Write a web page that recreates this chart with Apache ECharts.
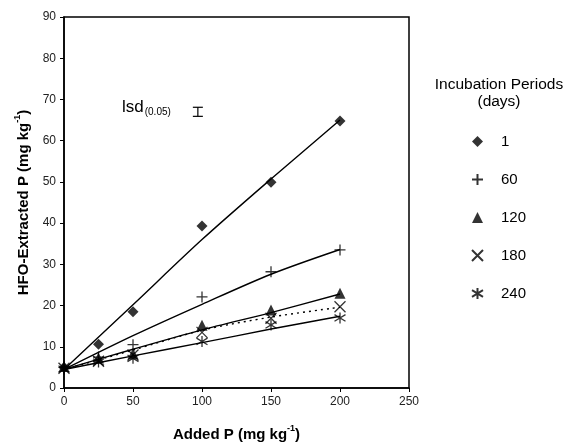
<!DOCTYPE html>
<html>
<head>
<meta charset="utf-8">
<script src="https://cdn.jsdelivr.net/npm/echarts@6/dist/echarts.min.js"></script>
<style>html,body{margin:0;padding:0;background:#fff}#c{width:568px;height:447px}</style>
</head>
<body>
<div id="c"></div>
<script>
// ---- data ----
var addedP = [0, 25, 50, 100, 150, 200];
var seriesNames = ['1', '60', '120', '180', '240'];
var obs1   = [5.0, 10.6, 18.5, 39.3, 49.9, 64.8];
var obs60  = [5.0, 7.5, 10.5, 22.1, 28.2, 33.5];
var obs120 = [5.2, 7.3, 8.3, 15.2, 18.9, 23.0];
var obs180 = [4.8, 6.5, 8.0, 13.5, 16.9, 19.7];
var obs240 = [4.6, 6.3, 7.2, 11.3, 15.3, 17.0];
var fitX   = [0, 50, 100, 150, 200];
var fit1   = [4.5, 20.2, 36.0, 50.7, 65.0];
var fit60  = [4.5, 12.7, 20.3, 27.6, 33.6];
var fit120 = [4.5, 9.4, 14.1, 18.3, 22.8];
var fit180 = [4.5, 9.2, 14.0, 17.2, 19.6];
var fit240 = [4.5, 7.8, 11.0, 14.3, 17.4];
var lsdX = 97, lsdLow = 65.9, lsdHigh = 68.1;
var xTicks = [0, 50, 100, 150, 200, 250];
var yTicks = [0, 10, 20, 30, 40, 50, 60, 70, 80, 90];

function pairs(xs, ys) { return xs.map(function (x, i) { return [x, ys[i]]; }); }

var SYM = {
  plus: 'path://M0,5L10,5M5,0L5,10',
  cross: 'path://M0,0L10,10M10,0L0,10',
  star: 'path://M0,2L10,8M0,8L10,2M5,0L5,10'
};
var obsList = [obs1, obs60, obs120, obs180, obs240];
var symbols = ['diamond', SYM.plus, 'triangle', SYM.cross, SYM.star];
var sizes = [11, 11, 11, 11, 11];
var filled = [true, false, true, false, false];
var fits = [fit1, fit60, fit120, fit180, fit240];

var series = [];
fits.forEach(function (f, i) {
  series.push({
    type: 'line', name: 'fit' + seriesNames[i], data: pairs(fitX, f), smooth: 0.3,
    showSymbol: false, silent: true, z: 2,
    lineStyle: { color: '#000', width: 1.4, type: i === 3 ? [2, 4] : 'solid' }
  });
});
obsList.forEach(function (d, i) {
  series.push({
    type: 'scatter', name: seriesNames[i], data: pairs(addedP, d),
    symbol: symbols[i], symbolSize: sizes[i], z: 5,
    itemStyle: filled[i] ? { color: '#000' } : { color: 'rgba(0,0,0,0)', borderColor: '#000', borderWidth: 1.3 }
  });
});
series.push({
  type: 'custom', name: 'lsd', data: [[lsdX, lsdLow, lsdHigh]], z: 5, silent: true,
  encode: { x: 0, y: [1, 2] },
  renderItem: function (params, api) {
    var lo = api.coord([api.value(0), api.value(1)]);
    var hi = api.coord([api.value(0), api.value(2)]);
    var w = 5;
    var st = { stroke: '#000', lineWidth: 1.2 };
    return { type: 'group', children: [
      { type: 'line', shape: { x1: lo[0], y1: lo[1], x2: hi[0], y2: hi[1] }, style: st },
      { type: 'line', shape: { x1: lo[0] - w, y1: lo[1], x2: lo[0] + w, y2: lo[1] }, style: st },
      { type: 'line', shape: { x1: hi[0] - w, y1: hi[1], x2: hi[0] + w, y2: hi[1] }, style: st }
    ] };
  }
});

var chart = echarts.init(document.getElementById('c'), null, { renderer: 'canvas' });
var FONT = 'Liberation Sans, Arial, sans-serif';
chart.setOption({
  animation: false,
  backgroundColor: '#fff',
  textStyle: { fontFamily: FONT },
  grid: { left: 64, right: 159, top: 17, bottom: 55, show: true, borderColor: '#000', borderWidth: 1.5, containLabel: false },
  xAxis: {
    type: 'value', min: xTicks[0], max: xTicks[xTicks.length - 1], interval: 50,
    axisLine: { show: true, onZero: false, lineStyle: { color: '#000', width: 1.5 } },
    axisTick: { show: true, length: 4, lineStyle: { color: '#000' } },
    splitLine: { show: false },
    axisLabel: { color: '#222', fontSize: 12, margin: 8, fontFamily: FONT },
    name: '{a|Added P (mg kg}{s|-1}{a|)}', nameLocation: 'middle', nameGap: 36,
    nameTextStyle: { rich: {
      a: { fontSize: 15, fontWeight: 'bold', color: '#000', fontFamily: FONT, lineHeight: 18, verticalAlign: 'bottom' },
      s: { fontSize: 9, fontWeight: 'bold', color: '#000', fontFamily: FONT, lineHeight: 18, verticalAlign: 'top' }
    } }
  },
  yAxis: {
    type: 'value', min: yTicks[0], max: yTicks[yTicks.length - 1], interval: 10,
    axisLine: { show: true, onZero: false, lineStyle: { color: '#000', width: 1.5 } },
    axisTick: { show: true, length: 4, lineStyle: { color: '#000' } },
    splitLine: { show: false },
    axisLabel: { color: '#222', fontSize: 12, margin: 8, fontFamily: FONT },
    name: '{a|HFO-Extracted P (mg kg}{s|-1}{a|)}', nameLocation: 'middle', nameGap: 33,
    nameTextStyle: { rich: {
      a: { fontSize: 15, fontWeight: 'bold', color: '#000', fontFamily: FONT, lineHeight: 18, verticalAlign: 'bottom' },
      s: { fontSize: 9, fontWeight: 'bold', color: '#000', fontFamily: FONT, lineHeight: 18, verticalAlign: 'top' }
    } }
  },
  legend: {
    data: seriesNames, orient: 'vertical', left: 466, top: 129,
    itemWidth: 11, itemHeight: 11, itemGap: 23,
    textStyle: { fontSize: 15, color: '#000', fontFamily: FONT, padding: [0, 0, 0, 13] },
    selectedMode: false
  },
  graphic: [
    { type: 'text', x: 499, y: 77, style: { text: 'Incubation Periods', fontSize: 15.5, fill: '#000', fontFamily: FONT, align: 'center' } },
    { type: 'text', x: 499, y: 94, style: { text: '(days)', fontSize: 15.5, fill: '#000', fontFamily: FONT, align: 'center' } },
    { type: 'text', left: 122, top: 99, style: {
      text: '{m|lsd}{s|(0.05)}', fontFamily: FONT,
      rich: {
        m: { fontSize: 17, fill: '#000', fontFamily: FONT, lineHeight: 18, verticalAlign: 'top' },
        s: { fontSize: 10, fill: '#000', fontFamily: FONT, lineHeight: 10, verticalAlign: 'bottom', padding: [0, 0, 0, 1] }
      } } }
  ],
  series: series
});
</script>
</body>
</html>
